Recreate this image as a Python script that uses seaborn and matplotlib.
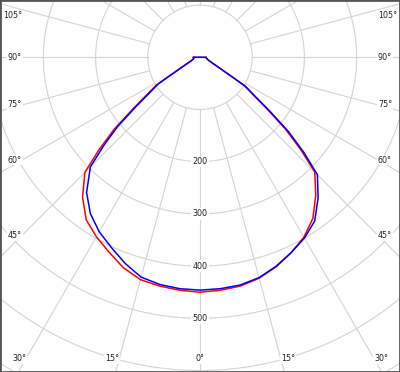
import numpy as np
import pandas as pd
import matplotlib
matplotlib.use("Agg")
import matplotlib.pyplot as plt
import seaborn as sns

sns.set_style("white")
plt.rcParams["font.family"] = ["DejaVu Sans"]

# gamma angles (deg from nadir) and luminous intensity (cd) for each half-plane
gamma = [0, 5, 10, 15, 20, 25, 30, 35, 40, 45, 47.5, 50, 52.5, 55, 57.5, 60, 65, 70, 75, 80, 85, 90]
red_left = [450, 448, 445, 441, 429, 412, 397, 380, 350, 312, 263, 215, 161, 123, 100, 51, 25, 17, 14, 13, 13, 13]
red_right = [450, 448, 445, 438, 427, 413, 398, 377, 345, 311, 262, 213, 160, 122, 100, 52, 26, 18, 15, 13, 12, 12]
blue_left = [446, 445, 442, 436, 420, 402, 386, 366, 338, 297, 250, 205, 153, 116, 95, 48, 24, 16, 13, 12, 12, 12]
blue_right = [446, 445, 443, 437, 426, 413, 400, 383, 352, 318, 270, 221, 166, 126, 103, 54, 27, 18, 15, 13, 12, 12]

ring_values = [100, 200, 300, 400, 500, 600, 700]
ring_labels = [200, 300, 400, 500]
angle_labels = [0, 15, 30, 45, 60, 75, 90, 105]

k = 100 / 52.2  # cd per pixel
grid_c = "#d4d4d4"
txt_c = "#222222"


def curve(left, right):
    g = np.array(gamma, dtype=float)
    th = np.concatenate([-g[::-1], g[1:]])
    r = np.concatenate([np.array(left)[::-1], np.array(right)[1:]])
    th = np.append(th, th[0])
    r = np.append(r, r[0])
    t = np.deg2rad(th)
    return pd.DataFrame({"x": r * np.sin(t), "y": -r * np.cos(t)})


fig = plt.figure(figsize=(4, 3.72), dpi=100)
ax = fig.add_axes([0, 0, 1, 1])

# polar grid
t = np.linspace(0, 2 * np.pi, 500)
for r in ring_values:
    ax.plot(r * np.sin(t), r * np.cos(t), color=grid_c, lw=0.8, zorder=1)
for a in range(0, 360, 15):
    ra = np.deg2rad(a)
    ax.plot([100 * np.sin(ra), 900 * np.sin(ra)], [-100 * np.cos(ra), -900 * np.cos(ra)],
            color=grid_c, lw=0.8, zorder=1)

for r in ring_labels:
    ax.text(0, -r, str(r), ha="center", va="center", fontsize=5.8, color=txt_c, zorder=3,
            bbox=dict(fc="white", ec="none", pad=0.8))

# angle labels at the edge of the plot
x_edge, y_bot, y_top = 178 * k, 301.4 * k, 42.3 * k
for a in angle_labels:
    for s in ([1] if a == 0 else [-1, 1]):
        ra = np.deg2rad(a)
        dx, dy = s * np.sin(ra), -np.cos(ra)
        tx = x_edge / abs(dx) if abs(dx) > 1e-9 else np.inf
        ty = y_bot / -dy if dy < -1e-9 else np.inf
        tt = min(tx, ty)
        px, py = dx * tt, min(dy * tt, y_top)
        if a == 0:
            ha = "center"
        else:
            ha = "right" if s < 0 else "left"
        ax.text(px, py, f"{a}°", ha=ha, va="center", fontsize=5.8, color=txt_c, zorder=3,
                bbox=dict(fc="white", ec="none", pad=0.5))

sns.lineplot(data=curve(red_left, red_right), x="x", y="y", sort=False, estimator=None,
             color="#ff0000", lw=1.1, ax=ax, zorder=4)
sns.lineplot(data=curve(blue_left, blue_right), x="x", y="y", sort=False, estimator=None,
             color="#0000ff", lw=1.1, ax=ax, zorder=5)

ax.set_xlim(-200 * k, 200 * k)
ax.set_ylim(-314.7 * k, 57.3 * k)
ax.set_xlabel("")
ax.set_ylabel("")
ax.set_xticks([])
ax.set_yticks([])
for sp in ax.spines.values():
    sp.set_visible(True)
    sp.set_color("#555555")
    sp.set_linewidth(2)

fig.savefig("out.png", dpi=100)
